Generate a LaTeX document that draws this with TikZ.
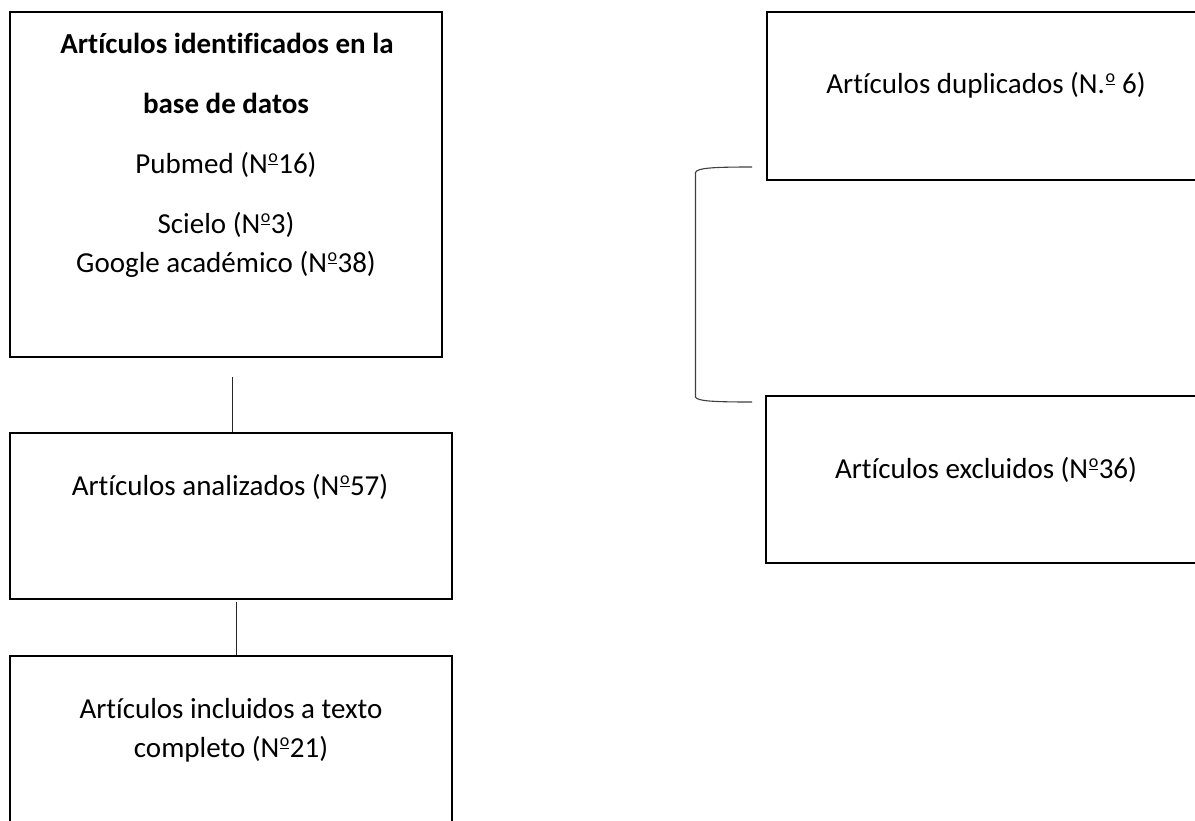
\documentclass[tikz,border=0pt]{standalone}
\usepackage{fontspec}
\setmainfont{Carlito}[Ligatures=NoCommon]
\newcommand{\ordm}{\kern0.5pt\raisebox{7.6pt}{\vbox{\hbox{\fontsize{18}{18}\selectfont o}\kern1.4pt\hrule height 1.4pt}}\kern0.5pt}
\begin{document}
\begin{tikzpicture}[x=1pt,y=-1pt,
  box/.style={draw=black, line width=2.2pt, inner sep=0pt, rectangle},
  txt/.style={inner sep=0pt, anchor=base, font=\fontsize{29}{38}\selectfont},
  link/.style={line width=1pt, draw=black!85},
  brace/.style={line width=1.1pt, draw=black!75}]
\useasboundingbox (0,0) rectangle (1195,820);
\clip (0,0) rectangle (1195,820);
\fill[white] (0,0) rectangle (1195,820);
% boxes
\node[box, minimum width=432pt, minimum height=345pt] (b1) at (226,184.5) {};
\node[box, minimum width=442pt, minimum height=166pt] (b2) at (231,516) {};
\node[box, minimum width=442pt, minimum height=334pt] (b3) at (231,823) {};
\node[box, minimum width=439pt, minimum height=168pt] (bA) at (986.5,96) {};
\node[box, minimum width=440pt, minimum height=167pt] (bB) at (986,479.5) {};
% texts
\node[txt] (t1a) at (227,53) {\bfseries Artículos identificados en la};
\node[txt] (t1b) at (226,113) {\bfseries base de datos};
\node[txt] (t1c) at (226,173) {Pubmed (N\ordm16)};
\node[txt] (t1d) at (226,233) {Scielo (N\ordm3)};
\node[txt] (t1e) at (226,272) {Google académico (N\ordm38)};
\node[txt] (t2) at (230,495) {Artículos analizados (N\ordm57)};
\node[txt] (t3a) at (231,718) {Artículos incluidos a texto};
\node[txt] (t3b) at (231,757) {completo (N\ordm21)};
\node[txt] (tA) at (986,93) {Artículos duplicados (N.\ordm\ 6)};
\node[txt] (tB) at (986,478) {Artículos excluidos (N\ordm36)};
% connectors
\coordinate (c1) at (232,377);
\coordinate (c2) at (236,602);
\draw[link] (c1) -- (c1 |- b2.north);
\draw[link] (c2) -- (c2 |- b3.north);
% bracket
\coordinate (brtop) at (752,167);
\coordinate (brbot) at (752,402);
\draw[brace] (brtop) .. controls (712,167) and (697,168) .. (695.5,172.5)
  -- (695.5,397) .. controls (697,401) and (712,402) .. (brbot);
\end{tikzpicture}
\end{document}
